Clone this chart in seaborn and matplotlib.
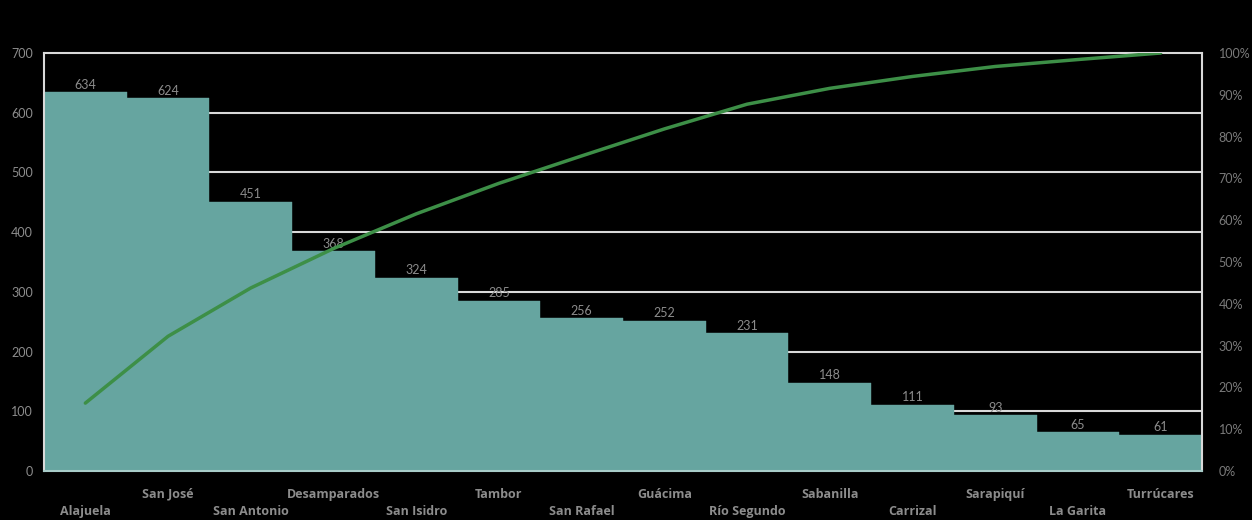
import matplotlib
matplotlib.use("Agg")
import matplotlib.pyplot as plt
import seaborn as sns
import numpy as np
import pandas as pd

categories = ["Alajuela", "San José", "San Antonio", "Desamparados", "San Isidro", "Tambor",
              "San Rafael", "Guácima", "Río Segundo", "Sabanilla", "Carrizal", "Sarapiquí",
              "La Garita", "Turrúcares"]
counts = [634, 624, 451, 368, 324, 285, 256, 252, 231, 148, 111, 93, 65, 61]
left_ticks = [0, 100, 200, 300, 400, 500, 600, 700]
right_ticks = [0, 10, 20, 30, 40, 50, 60, 70, 80, 90, 100]

df = pd.DataFrame({"cat": categories, "n": counts})
df["cum"] = df["n"].cumsum() / df["n"].sum() * 100

sns.set_style("dark")
plt.rcParams["font.family"] = ["Lato", "DejaVu Sans"]

fig = plt.figure(figsize=(12.52, 5.2), dpi=100, facecolor="black")
ax = fig.add_axes([44/1252, 1-471/520, (1202-44)/1252, (471-53)/520])
ax.set_facecolor("black")

for v in left_ticks[1:-1]:
    ax.axhline(v, color="#d9d9d9", lw=1.5, zorder=0)

sns.barplot(data=df, x="cat", y="n", color="#66a5a0", saturation=1, width=1.0,
            ax=ax, zorder=2, edgecolor="#66a5a0", linewidth=0.3)
ax.set_xlim(-0.5, len(categories) - 0.5)
ax.set_ylim(0, 700)
ax.set_yticks(left_ticks)
ax.set_xlabel("")
ax.set_ylabel("")
ax.grid(False)
for c in ax.containers:
    ax.bar_label(c, color="#8c8c8c", fontsize=9, padding=1)

labels = [("\n" + c) if i % 2 == 0 else c for i, c in enumerate(categories)]
ax.set_xticks(range(len(categories)))
ax.set_xticklabels(labels, color="#8c8c8c", fontsize=9, fontweight="bold",
                   family=["Open Sans", "DejaVu Sans"], linespacing=1.45)
ax.tick_params(axis="x", length=0, pad=12)
ax.tick_params(axis="y", length=0, colors="#8c8c8c", labelsize=9, pad=8)

for s in ["left", "right", "top"]:
    ax.spines[s].set_color("#d9d9d9")
    ax.spines[s].set_linewidth(1.5)
ax.spines["bottom"].set_color("#a8ccc9")
ax.spines["bottom"].set_linewidth(1.5)

ax2 = ax.twinx()
sns.lineplot(x=np.arange(len(categories)), y=df["cum"].values, ax=ax2,
             color="#3d8f47", lw=2.5, zorder=5)
ax2.set_ylim(0, 100)
ax2.set_yticks(right_ticks)
ax2.set_yticklabels([f"{t}%" for t in right_ticks])
ax2.tick_params(axis="y", length=0, colors="#7a7a7a", labelsize=9, pad=12)
ax2.grid(False)
for s in ax2.spines.values():
    s.set_visible(False)
ax2.set_ylabel("")

fig.savefig("out.png", dpi=100, facecolor="black")
